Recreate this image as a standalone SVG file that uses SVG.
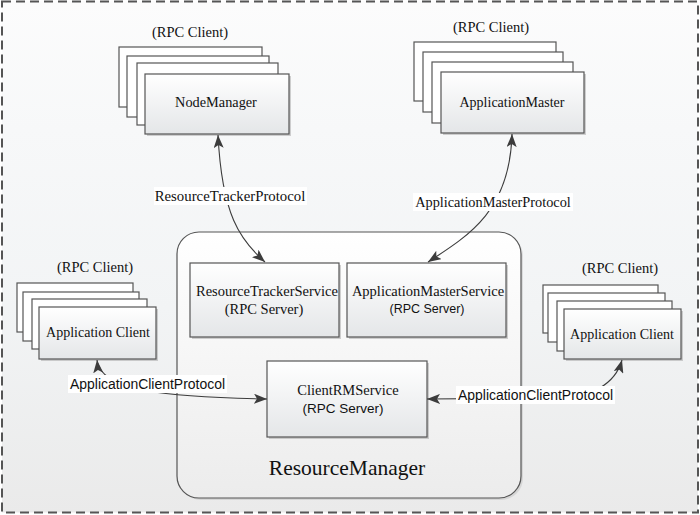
<svg xmlns="http://www.w3.org/2000/svg" width="700" height="515" viewBox="0 0 700 515">
<defs>
<linearGradient id="bg" x1="0" y1="0" x2="0" y2="1">
<stop offset="0" stop-color="#fcfcfc"/>
<stop offset="0.25" stop-color="#f7f8f9"/>
<stop offset="0.6" stop-color="#f2f4f5"/>
<stop offset="1" stop-color="#eaeaea"/>
</linearGradient>
<linearGradient id="box" x1="0" y1="0" x2="0" y2="1">
<stop offset="0" stop-color="#ffffff"/>
<stop offset="1" stop-color="#e4e6e8"/>
</linearGradient>
<linearGradient id="rm" x1="0" y1="0" x2="0" y2="1">
<stop offset="0" stop-color="#ffffff"/>
<stop offset="1" stop-color="#ececec"/>
</linearGradient>
<marker id="ah" viewBox="0 0 14 10" refX="13" refY="5" markerWidth="14" markerHeight="10" markerUnits="userSpaceOnUse" orient="auto-start-reverse">
<path d="M0,0 L13,5 L0,10 L3,5 z" fill="#3c3c3c"/>
</marker>
</defs>
<style>
.frame{fill:url(#bg);stroke:#555;stroke-width:2;stroke-dasharray:9 5}
.back{fill:#ffffff;stroke:#555;stroke-width:1.2}
.front{fill:url(#box);stroke:#555;stroke-width:1.2}
.shadow{fill:#9a9a9a;opacity:0.45}
.serif{font-family:"Liberation Serif","Times New Roman",serif;fill:#111;text-anchor:middle}
.sans{font-family:"Liberation Sans",Arial,sans-serif;fill:#111;text-anchor:middle}
.conn{fill:none;stroke:#3c3c3c;stroke-width:1.1}
.lblbg{fill:#ffffff}
</style>

<rect class="frame" x="2" y="1.5" width="696" height="511"/>

<g id="resource-manager">
<rect x="179" y="234" width="344" height="266" rx="22" fill="#b0b0b0" opacity="0.35"/>
<rect x="177" y="232" width="344" height="266" rx="22" fill="url(#rm)" stroke="#555" stroke-width="1.2"/>
<text class="serif" x="347" y="475" font-size="21.5">ResourceManager</text>
</g>

<g id="resource-tracker-service">
<rect class="shadow" x="192" y="265" width="149" height="74"/>
<rect class="front" x="190" y="263" width="149" height="74"/>
<text class="serif" x="267" y="296" font-size="14.5">ResourceTrackerService</text>
<text class="serif" x="264" y="314" font-size="14.5">(RPC Server)</text>
</g>

<g id="application-master-service">
<rect class="shadow" x="349" y="265" width="159" height="74"/>
<rect class="front" x="347" y="263" width="159" height="74"/>
<text class="serif" x="428" y="296" font-size="14.5">ApplicationMasterService</text>
<text class="sans" x="427" y="313" font-size="12.5">(RPC Server)</text>
</g>

<g id="client-rm-service">
<rect class="shadow" x="269" y="363" width="160" height="76"/>
<rect class="front" x="267" y="361" width="160" height="76"/>
<text class="serif" x="348" y="395" font-size="14.5">ClientRMService</text>
<text class="sans" x="343" y="413" font-size="13.5">(RPC Server)</text>
</g>

<g id="node-manager">
<text class="serif" x="190" y="37" font-size="14.5">(RPC Client)</text>
<rect class="back" x="119" y="47" width="143" height="60"/>
<rect class="back" x="127" y="56" width="142" height="61"/>
<rect class="back" x="137" y="63" width="141" height="62"/>
<rect class="shadow" x="147" y="76" width="144" height="60"/>
<rect class="front" x="145" y="74" width="144" height="60"/>
<text class="serif" x="216" y="107" font-size="14.3">NodeManager</text>
</g>

<g id="application-master">
<text class="serif" x="491" y="32" font-size="14.5">(RPC Client)</text>
<rect class="back" x="414" y="42" width="142" height="59"/>
<rect class="back" x="423" y="52" width="140" height="60"/>
<rect class="back" x="432" y="62" width="141" height="61"/>
<rect class="shadow" x="443" y="74" width="143" height="61"/>
<rect class="front" x="441" y="72" width="143" height="61"/>
<text class="serif" x="512" y="107" font-size="14">ApplicationMaster</text>
</g>

<g id="application-client-left">
<text class="serif" x="95" y="272" font-size="14.5">(RPC Client)</text>
<rect class="back" x="17" y="283" width="116" height="49"/>
<rect class="back" x="23" y="292" width="116" height="49"/>
<rect class="back" x="32" y="299" width="115" height="50"/>
<rect class="shadow" x="41" y="309" width="117" height="52"/>
<rect class="front" x="39" y="307" width="117" height="52"/>
<text class="serif" x="98" y="337" font-size="14">Application Client</text>
</g>

<g id="application-client-right">
<text class="serif" x="620" y="273" font-size="14.5">(RPC Client)</text>
<rect class="back" x="543" y="285" width="115" height="48"/>
<rect class="back" x="548" y="293" width="117" height="49"/>
<rect class="back" x="557" y="301" width="115" height="50"/>
<rect class="shadow" x="566" y="311" width="117" height="50"/>
<rect class="front" x="564" y="309" width="117" height="50"/>
<text class="serif" x="622" y="339" font-size="14">Application Client</text>
</g>

<g id="connectors">
<path class="conn" d="M218,135 C222,215 240,240 265,262" marker-start="url(#ah)" marker-end="url(#ah)"/>
<path class="conn" d="M512,134 C510,210 470,235 428,262" marker-start="url(#ah)" marker-end="url(#ah)"/>
<path class="conn" d="M97,360 C100,392 170,397 267,399" marker-start="url(#ah)" marker-end="url(#ah)"/>
<path class="conn" d="M622,360 C615,385 590,397 560,398 L427,399" marker-start="url(#ah)" marker-end="url(#ah)"/>
<rect class="lblbg" x="154" y="187" width="153" height="18"/>
<text class="serif" x="230" y="201" font-size="14.8">ResourceTrackerProtocol</text>
<rect class="lblbg" x="413" y="193" width="160" height="18"/>
<text class="serif" x="493" y="207" font-size="14.3">ApplicationMasterProtocol</text>
<rect class="lblbg" x="68" y="375" width="159" height="18"/>
<text class="sans" x="147.5" y="389" font-size="14" textLength="155" lengthAdjust="spacingAndGlyphs">ApplicationClientProtocol</text>
<rect class="lblbg" x="456" y="386" width="159" height="18"/>
<text class="sans" x="535.5" y="400" font-size="14" textLength="155" lengthAdjust="spacingAndGlyphs">ApplicationClientProtocol</text>
</g>
</svg>
